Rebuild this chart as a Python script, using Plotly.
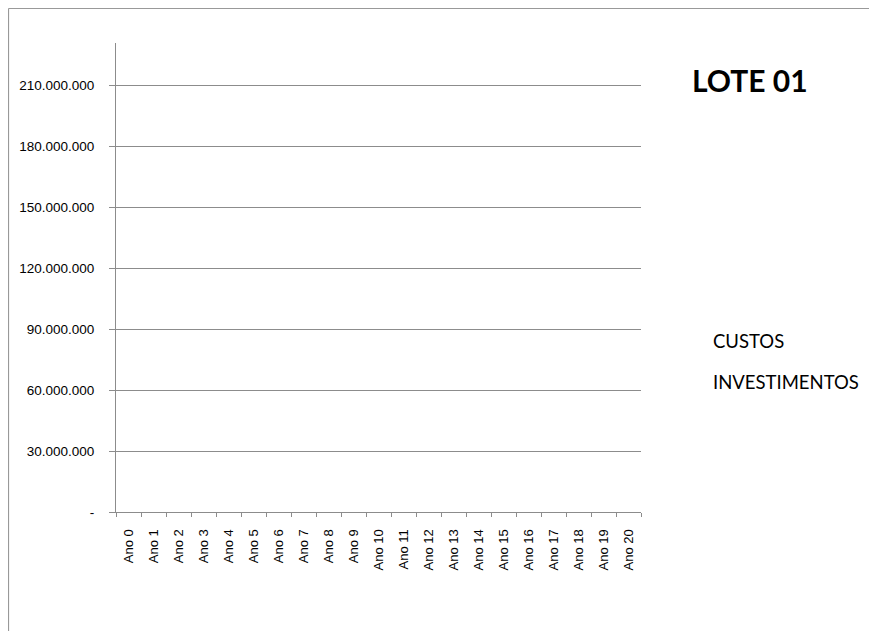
import plotly.graph_objects as go

categories = [f"Ano {i}" for i in range(21)]
custos = [None] * 21
investimentos = [None] * 21
y_tickvals = [0, 30000000, 60000000, 90000000, 120000000, 150000000, 180000000, 210000000]
y_ticktext = ["-", "30.000.000", "60.000.000", "90.000.000", "120.000.000",
              "150.000.000", "180.000.000", "210.000.000"]
title_text = "LOTE 01"

W, H = 877, 631
# plot area in figure pixels (page is offset by 8px body margin)
L, R, T, B = 108, 633, 35, 504

fig = go.Figure()
fig.add_trace(go.Bar(x=categories, y=custos, name="CUSTOS", legendgroup="a",
                     marker=dict(color="rgba(0,0,0,0)", line=dict(width=0))))
fig.add_trace(go.Bar(x=categories, y=investimentos, name="INVESTIMENTOS", legendgroup="b",
                     marker=dict(color="rgba(0,0,0,0)", line=dict(width=0))))

pw = R - L
ph = B - T
def px_x(p):
    return (p - L) / pw
def px_y(p):
    return (B - p) / ph

gray = "#8c8c8c"
fig.update_layout(
    width=W, height=H,
    margin=dict(l=L, r=W - R, t=T, b=H - B, pad=0),
    paper_bgcolor="white", plot_bgcolor="white",
    title=dict(text=f"<b>{title_text}</b>", x=684 / W, xanchor="left", xref="container",
               y=1 - 73 / H, yanchor="middle", yref="container",
               font=dict(family="Lato, Open Sans, sans-serif", size=30, color="black")),
    showlegend=True,
    legend=dict(x=px_x(665), xanchor="left", y=px_y(314), yanchor="top",
                font=dict(family="Lato, Open Sans, sans-serif", size=18.5, color="black"),
                traceorder="grouped", tracegroupgap=14, itemwidth=30,
                bgcolor="rgba(0,0,0,0)"),
    xaxis=dict(type="category", showgrid=False, showline=True, linecolor=gray, linewidth=1,
               ticks="outside", tickson="boundaries", ticklen=4, tickcolor=gray,
               tickangle=-90, ticklabelstandoff=11,
               tickfont=dict(family="Liberation Sans, Arial, sans-serif", size=13, color="black"),
               range=[-0.5, 20.5]),
    yaxis=dict(range=[0, 230700000], tickvals=y_tickvals, ticktext=y_ticktext,
               showgrid=True, gridcolor=gray, gridwidth=1, showline=True, linecolor=gray,
               linewidth=1, ticks="outside", ticklen=6, tickcolor=gray, zeroline=False,
               ticklabelstandoff=12,
               tickfont=dict(family="Liberation Sans, Arial, sans-serif", size=13.5, color="black")),
    shapes=[
        dict(type="line", xref="paper", yref="paper", x0=px_x(0.5), x1=px_x(W + 2),
             y0=px_y(0.5), y1=px_y(0.5), line=dict(color="#999999", width=1.2)),
        dict(type="line", xref="paper", yref="paper", x0=px_x(0.5), x1=px_x(0.5),
             y0=px_y(0.5), y1=px_y(H + 2), line=dict(color="#999999", width=1.2)),
    ],
)

fig.write_html("out.html")
